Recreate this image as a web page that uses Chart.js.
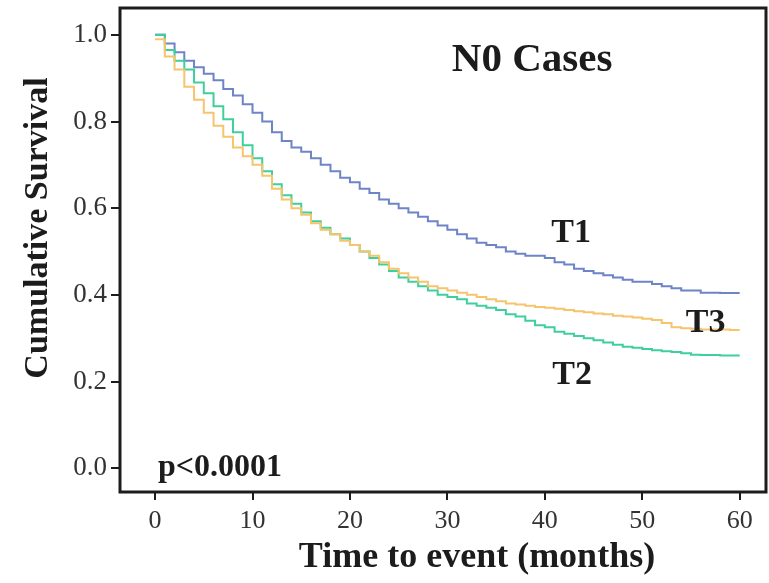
<!DOCTYPE html>
<html>
<head>
<meta charset="utf-8">
<script src="https://cdn.jsdelivr.net/npm/chart.js@4"></script>
<style>
  html, body { margin: 0; padding: 0; background: #fff; }
  #wrap { width: 769px; height: 583px; }
</style>
</head>
<body>
<div id="wrap"><canvas id="km"></canvas></div>
<script>
// months
const months = [0,1,2,3,4,5,6,7,8,9,10,11,12,13,14,15,16,17,18,19,20,21,22,23,24,25,26,27,28,29,30,
  31,32,33,34,35,36,37,38,39,40,41,42,43,44,45,46,47,48,49,50,51,52,53,54,55,56,57,58,59,60];

const t1Survival = [1.00,0.98,0.96,0.94,0.925,0.91,0.895,0.875,0.86,0.84,0.82,0.80,0.775,0.755,0.74,0.73,0.715,0.70,0.685,0.67,0.66,
  0.645,0.635,0.62,0.61,0.60,0.59,0.58,0.57,0.56,0.55,0.54,0.53,0.52,0.515,0.51,0.50,0.495,0.49,0.49,0.485,
  0.475,0.47,0.46,0.455,0.45,0.445,0.44,0.435,0.43,0.43,0.425,0.42,0.415,0.41,0.41,0.405,0.405,0.404,0.404,0.404];

const t2Survival = [1.00,0.965,0.94,0.92,0.89,0.865,0.835,0.805,0.775,0.745,0.715,0.685,0.655,0.63,0.61,0.59,0.57,0.555,0.54,0.53,0.515,
  0.50,0.485,0.47,0.455,0.44,0.43,0.42,0.41,0.40,0.395,0.39,0.38,0.375,0.37,0.365,0.355,0.35,0.34,0.33,0.325,
  0.315,0.31,0.305,0.30,0.295,0.29,0.285,0.28,0.278,0.275,0.272,0.27,0.268,0.265,0.262,0.261,0.261,0.26,0.26,0.26];

const t3Survival = [0.99,0.95,0.92,0.88,0.85,0.82,0.79,0.765,0.74,0.72,0.70,0.675,0.645,0.62,0.60,0.585,0.565,0.55,0.54,0.525,0.515,
  0.50,0.49,0.475,0.46,0.45,0.44,0.43,0.42,0.415,0.41,0.405,0.40,0.395,0.39,0.385,0.38,0.378,0.375,0.372,0.37,
  0.368,0.365,0.362,0.36,0.357,0.355,0.352,0.35,0.348,0.345,0.342,0.335,0.325,0.323,0.322,0.32,0.32,0.32,0.319,0.319];

const xTickValues = [0,10,20,30,40,50,60];
const yTickValues = [0,0.2,0.4,0.6,0.8,1.0];

const xTitle = 'Time to event (months)';
const yTitle = 'Cumulative Survival';

// text drawn inside the plot: [text, month, survival, align, size]
const plotLabels = [
  ['N0 Cases', 38.7, 0.942, 'center', 41],
  ['T1', 42.7, 0.543, 'center', 34],
  ['T3', 56.5, 0.335, 'center', 34],
  ['T2', 42.8, 0.215, 'center', 34],
  ['p<0.0001', 0.3, 0.0, 'left', 32]
];

const SERIF = '"Liberation Serif", "Times New Roman", serif';
const INK = '#1c1c1c';

const toPoints = (ys) => months.map((m, i) => ({ x: m, y: ys[i] }));

const boxAndLabels = {
  id: 'boxAndLabels',
  afterDatasetsDraw(chart) {
    const { ctx, chartArea: a, scales } = chart;
    ctx.save();
    ctx.strokeStyle = INK;
    ctx.lineWidth = 3;
    ctx.strokeRect(a.left, a.top, a.right - a.left, a.bottom - a.top);
    ctx.fillStyle = INK;
    ctx.textBaseline = 'middle';
    plotLabels.forEach(([txt, mx, sy, align, size]) => {
      ctx.font = `bold ${size}px ${SERIF}`;
      ctx.textAlign = align;
      ctx.fillText(txt, scales.x.getPixelForValue(mx), scales.y.getPixelForValue(sy));
    });

    // axis titles, placed a little off-centre like the original figure
    ctx.textAlign = 'center';
    ctx.font = `bold 36px ${SERIF}`;
    ctx.fillText(xTitle, a.left + 357, 558);
    ctx.translate(38, a.top + 220);
    ctx.rotate(-Math.PI / 2);
    ctx.font = `bold 34px ${SERIF}`;
    ctx.fillText(yTitle, 0, 0);
    ctx.restore();
  }
};

const lineStyle = (label, data, color) => ({
  label,
  data: toPoints(data),
  borderColor: color,
  borderWidth: 2,
  pointRadius: 0,
  stepped: true,
  fill: false
});

new Chart(document.getElementById('km'), {
  type: 'line',
  data: {
    datasets: [
      lineStyle('T3', t3Survival, '#f6c46c'),
      lineStyle('T2', t2Survival, '#3fcf9b'),
      lineStyle('T1', t1Survival, '#6d84c6')
    ]
  },
  options: {
    responsive: true,
    maintainAspectRatio: false,
    animation: false,
    layout: { padding: { top: 8, right: 3, left: 0, bottom: 0 } },
    plugins: { legend: { display: false }, tooltip: { enabled: false } },
    scales: {
      x: {
        type: 'linear',
        min: -3.6,
        max: 62.7,
        afterBuildTicks: (s) => { s.ticks = xTickValues.map(v => ({ value: v })); },
        afterFit: (s) => { s.height = 91; s.paddingLeft = 0; s.paddingRight = 0; },
        grid: { drawOnChartArea: false, drawTicks: true, tickLength: 8, color: INK, lineWidth: 2 },
        border: { display: false },
        ticks: { color: '#333', padding: 6, maxRotation: 0, font: { family: SERIF, size: 26 } }
      },
      y: {
        min: -0.055,
        max: 1.062,
        afterBuildTicks: (s) => { s.ticks = yTickValues.map(v => ({ value: v })); },
        afterFit: (s) => { s.width = 120; s.paddingTop = 0; s.paddingBottom = 0; },
        grid: { drawOnChartArea: false, drawTicks: true, tickLength: 9, color: INK, lineWidth: 2 },
        border: { display: false },
        ticks: { color: '#333', padding: 4, font: { family: SERIF, size: 27 }, callback: (v) => v.toFixed(1) }
      }
    }
  },
  plugins: [boxAndLabels]
});
</script>
</body>
</html>
